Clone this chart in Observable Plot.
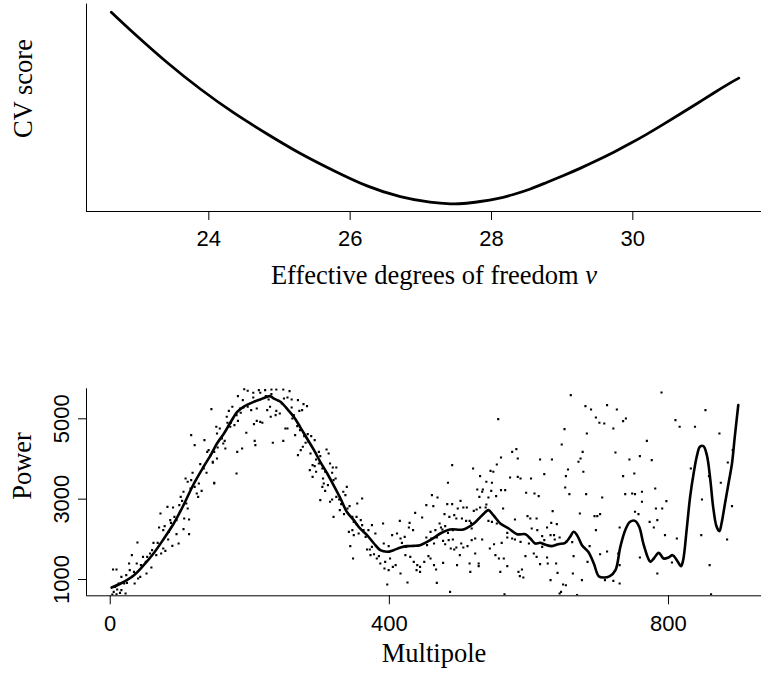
<!DOCTYPE html>
<html>
<head>
<meta charset="utf-8">
<script src="https://cdn.jsdelivr.net/npm/d3@7"></script>
<script src="https://cdn.jsdelivr.net/npm/@observablehq/plot@0.6"></script>
<style>
  html, body { margin: 0; padding: 0; background: #fff; }
  body { width: 761px; height: 673px; position: relative; overflow: hidden; }
  .panel { position: absolute; left: 0; }
  #labels { position: absolute; left: 0; top: 0; pointer-events: none; }
  #labels text { font-family: "Liberation Serif", "Times New Roman", serif; font-size: 26.5px; fill: #000; }
</style>
</head>
<body>
<div id="top" class="panel" style="top:0px"></div>
<div id="bottom" class="panel" style="top:340px"></div>
<svg id="labels" width="761" height="673">
  <text x="434" y="284" text-anchor="middle">Effective degrees of freedom <tspan font-style="italic">ν</tspan></text>
  <text transform="translate(32.3,88.5) rotate(-90)" text-anchor="middle">CV score</text>
  <text x="434" y="662" text-anchor="middle">Multipole</text>
  <text transform="translate(30.7,466) rotate(-90)" text-anchor="middle">Power</text>
</svg>
<script>
// ---------- Top panel: CV score vs effective degrees of freedom ----------
const dof = [22.62, 22.936, 23.41, 23.88, 24.35, 24.82, 25.29, 25.77, 26.24, 26.71, 27.13, 27.42, 27.60, 27.84, 28.08, 28.31, 28.55, 28.78, 29.02, 29.26, 29.49, 29.73, 29.96, 30.20, 30.43, 30.67, 30.91, 31.14, 31.38, 31.50];
const cvScore = [199.3, 178.5, 149.0, 122.5, 98.8, 77.8, 58.3, 40.8, 25.6, 14.8, 9.3, 7.7, 8.0, 10.0, 12.8, 17.0, 22.5, 29.0, 36.0, 43.4, 51.0, 59.3, 67.9, 77.4, 87.1, 97.5, 108.0, 118.3, 128.6, 133.4];
const dofTicks = [24, 26, 28, 30];

// ---------- Bottom panel: power spectrum vs multipole ----------
const scatterL = [
145,116,121,135,139,141,144,147,129,134,138,118,108,111,116,121,127,131,115,124,126,149,105,101,103,109,99,111,100,90,82,72,92,86,87,95,106,113,78,70,76,84,95,105,113,98,89,83,79,76,68,62,66,73,60,57,53,47,39,51,59,44,38,31,27,28,34,40,43,52,31,23,16,12,20,24,35,9,4,10,5,3,9,14,16,22,7,
192,197,213,222,231,238,248,257,205,215,231,183,190,205,223,227,241,249,254,260,269,277,282,275,271,260,263,246,243,237,238,229,225,210,202,197,191,186,175,170,167,176,181,187,173,168,172,178,183,195,206,218,230,251,254,261,268,272,265,278,283,288,293,280,284,276,273,269,287,295,299,301,295,290,293,299,286,290,295,304,308,305,304,306,301,152,157,153,160,164,165,162,154,149,153,147,149,181,182,207,208,233,248,215,210,189,
310,313,315,319,324,318,320,323,312,308,315,318,324,328,334,337,339,331,320,329,335,340,343,347,349,353,354,361,359,353,347,342,349,344,356,361,363,366,370,375,380,368,372,375,378,382,385,373,387,394,401,405,399,393,409,416,426,397,348,391,392,399,404,411,416,418,422,415,428,429,434,424,423,430,435,440,444,439,444,450,456,459,464,454,453,459,437,453,461,466,447,
556,582,576,584,560,554,520,490,484,530,539,547,549,545,573,584,588,603,622,616,526,533,534,546,560,566,553,542,529,596,608,614,469,463,483,490,502,498,506,511,521,525,530,538,539,563,479,486,493,496,504,510,515,474,472,476,468,480,484,491,517,518,542,547,554,580,598,602,611,604,612,619,622,569,576,580,588,569,533,523,550,544,561,600,460,464,480,477,485,491,503,512,518,488,493,496,506,501,477,467,497,515,516,528,528,523,552,557,564,569,559,585,590,587,592,595,611,607,616,468,487,565,
660,681,689,712,726,696,701,708,739,735,721,651,683,769,647,677,724,759,674,671,633,744,776,656,653,678,751,735,652,658,682,705,738,748,752,762,781,762,634,673,694,698,702,752,757,773,779,730,696,632,626,640,631,636,637,619,644,654,662,687,702,712,759,728,626,639,664,627,730,684,663,641,631,649,653,676,709,721,730,646,644,669,
790,853,810,816,838,873,892,885,832,858,875,848,797,782,791,891,784,795,812,847,884,805,859,784,861
];
const scatterP = [
5241,4594,4345,4469,4178,4220,4095,3905,3871,3764,3656,3656,3515,3432,3473,3307,3390,3207,3266,3141,3058,3390,3183,3058,2958,2892,2850,2768,2685,2792,2809,2643,2560,2477,2411,2477,2519,2494,2328,2294,2228,2187,2128,2253,2128,1896,1838,1996,1713,1772,1913,1913,1606,1647,1730,1647,1564,1564,1921,1440,1298,1357,1398,1606,1398,1232,1190,1025,1066,1149,1066,1108,1066,900,900,917,900,1249,1249,751,692,626,634,667,734,651,817,
5739,5697,5714,5714,5731,5731,5731,5689,5648,5648,5614,5565,5465,5531,5565,5482,5448,5507,5531,5482,5465,5365,5316,5216,5199,5282,5092,5382,5133,5092,5199,5299,5216,5258,5216,5299,5282,5258,5299,5199,5050,5009,5092,5150,4901,4901,4801,4843,4950,4652,4867,4901,5050,4760,4760,5009,4818,4718,4594,4569,4618,4569,4469,4403,4428,4303,4220,4096,4137,4137,4178,4071,3988,3847,3822,3888,3722,3556,3681,3764,3681,3515,3307,3390,2975,4801,4760,4635,4510,4452,4262,4386,4286,4178,4013,3930,3407,3639,4178,4452,4345,4403,4452,4925,4950,4262,
4237,4137,3888,3788,3788,3656,3473,3515,3349,3207,2934,2992,3058,2992,3183,3100,3307,2875,2560,2726,2626,2768,2826,2560,2436,2560,2892,3017,2477,2377,2228,2187,2104,1830,2145,2353,2228,2062,2228,2353,2145,1747,1747,1813,1630,1523,1581,1606,1398,1440,1523,1315,1232,1274,1357,1149,925,875,1523,2394,1896,1830,2104,2145,2020,1913,2062,2460,2294,2411,2228,1813,1606,1564,1440,1357,1315,1232,1190,1440,1581,1523,1357,1855,2045,2187,2660,2850,3100,2228,2543,
4992,4245,4178,4013,4037,3863,3764,3847,3407,3573,3432,3407,3681,3705,3539,3556,3515,3515,3622,3988,3241,3183,3241,3207,3224,3224,3075,3041,3058,3158,3141,3075,3041,2826,2875,2875,2958,2768,2792,2792,2709,2743,2792,2792,2867,2768,2626,2560,2602,2519,2519,2460,2460,2294,2394,2245,2045,2328,2162,2228,2411,2270,2460,2436,2394,2494,2577,2519,2519,2270,2228,2079,1979,2162,2020,1996,1938,2045,1996,2020,1879,1772,1913,1896,2020,1896,1879,1962,1979,1996,1896,1830,1979,1772,1747,1796,1796,1606,1415,1249,1357,1398,1190,1398,1332,1647,1606,1523,1523,1332,1190,1190,1249,1083,1049,1581,1564,1647,1382,917,692,634,
5590,5316,5233,5341,5233,5033,4901,4884,5009,4942,4760,4743,4635,4452,4361,4178,4162,4071,4013,3930,3988,3988,3971,3739,3573,3681,3639,3573,3290,3124,3124,3041,3124,3141,3124,3183,3266,2934,2701,2643,2577,2577,2626,2685,2626,2436,2294,2294,2228,2411,2294,2377,2104,2104,1996,1813,2045,1946,1929,1830,1630,1697,1547,1647,1547,1398,1581,1398,1357,1440,1149,1166,983,875,858,983,983,966,900,692,651,610,
5656,5216,4967,4801,4801,4635,4220,3913,3764,3573,3407,2992,2950,2768,2768,2826,2477,2104,2020,2104,1996,1423,1357,1149,634
];
const smoothL = [2,15,34,48,62,77,91,105,120,134,144,153,163,172,182,191,206,215,222,229,234,244,253,263,272,282,292,301,311,320,330,339,349,358,368,378,387,397,406,416,425,435,444,454,466,473,487,506,521,533,542,549,559,571,583,595,602,609,616,623,633,642,652,659,664,669,676,685,693,700,707,716,724,731,738,745,752,758,764,771,774,779,786,793,800,806,812,818,821,826,831,836,841,845,850,855,860,864,869,873,876,881,886,891,895,900];
const smoothP = [800,900,1108,1357,1647,2021,2394,2850,3390,3813,4096,4386,4635,4901,5175,5299,5424,5482,5531,5565,5507,5424,5258,5050,4801,4510,4220,3930,3639,3349,3017,2685,2477,2270,2104,1896,1730,1689,1730,1796,1830,1838,1855,1938,2062,2145,2245,2245,2394,2601,2726,2601,2394,2270,2128,2128,2020,1896,1915,1870,1830,1880,1913,2062,2187,2104,1855,1689,1398,1083,1049,1083,1232,1813,2228,2436,2460,2311,1896,1523,1440,1523,1664,1523,1547,1606,1481,1332,1481,2228,3058,3639,4096,4303,4320,4096,3473,2809,2311,2203,2394,2892,3390,3888,4552,5340];
const multipoleTicks = [0, 400, 800];
const powerTicks = [1000, 3000, 5000];

const tickFont = '"Liberation Sans Narrow", "Arial Narrow", "Liberation Sans", Arial, sans-serif';

const cvData = dof.map((d, i) => ({dof: d, cv: cvScore[i]}));
const pts = scatterL.map((l, i) => ({l, p: scatterP[i]}));
const smooth = smoothL.map((l, i) => ({l, p: smoothP[i]}));

const xDomTop = [22.269, 31.821];
const yDomTop = [0, 207.4];
const topPlot = Plot.plot({
  width: 761, height: 340,
  marginLeft: 86, marginRight: 0, marginTop: 3.6, marginBottom: 129,
  x: {domain: xDomTop},
  y: {domain: yDomTop, axis: null},
  style: {fontFamily: tickFont, fontSize: "22px", background: "transparent", color: "#000", overflow: "visible"},
  marks: [
    Plot.ruleY([yDomTop[0]], {stroke: "#000", strokeWidth: 1}),
    Plot.ruleX([xDomTop[0]], {stroke: "#000", strokeWidth: 1}),
    Plot.axisX({ticks: dofTicks, tickSize: 9, tickPadding: 10, label: null, tickFormat: d => String(d)}),
    Plot.line(cvData, {x: "dof", y: "cv", curve: "natural", stroke: "#000", strokeWidth: 2.8})
  ]
});
document.getElementById("top").appendChild(topPlot);

const xDomBot = [-34, 933.3];
const yDomBot = [594.3, 5747];
const botPlot = Plot.plot({
  width: 761, height: 333,
  marginLeft: 86, marginRight: 0, marginTop: 48.3, marginBottom: 77.7,
  x: {domain: xDomBot},
  y: {domain: yDomBot},
  style: {fontFamily: tickFont, fontSize: "22px", background: "transparent", color: "#000", overflow: "visible"},
  marks: [
    Plot.ruleY([yDomBot[0]], {stroke: "#000", strokeWidth: 1}),
    Plot.ruleX([xDomBot[0]], {stroke: "#000", strokeWidth: 1}),
    Plot.axisX({ticks: multipoleTicks, tickSize: 9, tickPadding: 11, label: null, tickFormat: d => String(d)}),
    Plot.axisY({ticks: powerTicks, tickSize: 8, tickPadding: 10, tickRotate: -90, label: null, tickFormat: d => String(d)}),
    Plot.dot(pts, {x: "l", y: "p", r: 1.2, symbol: "square", fill: "#000", clip: true}),
    Plot.line(smooth, {x: "l", y: "p", curve: "catmull-rom", stroke: "#000", strokeWidth: 2.6, clip: true})
  ]
});
document.getElementById("bottom").appendChild(botPlot);
</script>
</body>
</html>
